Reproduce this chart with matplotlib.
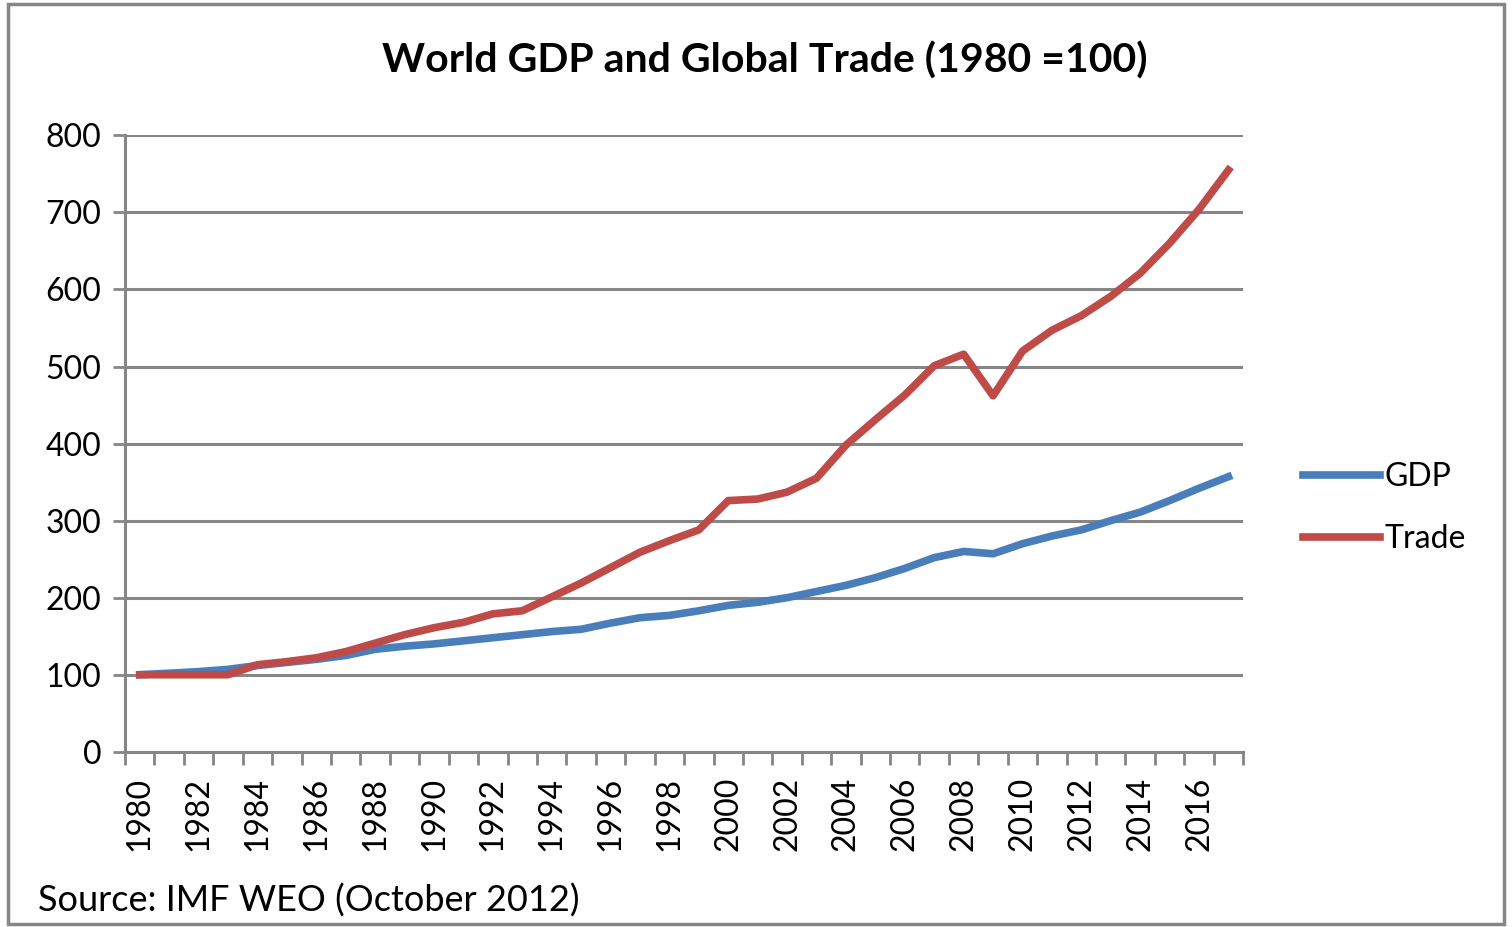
import matplotlib.pyplot as plt
import numpy as np

plt.rcParams['font.family'] = ['Lato', 'DejaVu Sans']

years = list(range(1980, 2018))
gdp = [100, 102, 104, 107, 112, 116, 120, 125, 133, 137,
       140, 144, 148, 152, 156, 159, 167, 174, 177, 183,
       190, 194, 200, 208, 216, 226, 238, 252, 260, 257,
       270, 280, 288, 300, 311, 326, 342, 357]
trade = [100, 100, 100, 100, 113, 117, 122, 130, 141, 152,
         161, 168, 179, 183, 201, 219, 239, 259, 274, 288,
         326, 328, 337, 355, 398, 431, 463, 501, 516, 462,
         520, 547, 566, 591, 621, 660, 704, 755]

grid_col = '#868686'

fig = plt.figure(figsize=(15.12, 9.27), dpi=100)
ax = fig.add_axes([0.0827, 0.189, 0.7395, 0.665])

x = np.arange(len(years))
ax.plot(x, gdp, color='#4A7EBB', lw=5.5, label='GDP')
ax.plot(x, trade, color='#BE4B48', lw=5.5, label='Trade')

ax.set_xlim(-0.5, len(years) - 0.5)
ax.set_ylim(0, 800)
ax.set_yticks(range(0, 801, 100))
ax.yaxis.grid(True, color=grid_col, lw=2.2)
ax.set_axisbelow(True)

# category ticks sit between years, labels every other year
ax.set_xticks(np.arange(-0.5, len(years), 1))
ax.set_xticklabels([])
ax.set_xticks(x[::2], minor=True)
ax.set_xticklabels([str(y) for y in years[::2]], minor=True, rotation=90, fontsize=23)
ax.tick_params(axis='x', which='minor', length=0, pad=18)
ax.tick_params(axis='x', which='major', length=9, width=2, color=grid_col, direction='out')
ax.tick_params(axis='y', length=9, width=2, color=grid_col, labelsize=23, pad=8)

for s in ['top', 'right']:
    ax.spines[s].set_visible(False)
for s in ['left', 'bottom']:
    ax.spines[s].set_color(grid_col)
    ax.spines[s].set_linewidth(2.2)

fig.text(0.5055, 0.935, 'World GDP and Global Trade (1980 =100)', ha='center', va='center',
         fontsize=29.5, fontweight='bold')
fig.text(0.025, 0.01, 'Source: IMF WEO (October 2012)', ha='left', va='bottom', fontsize=26)

leg = ax.legend(loc='center left', bbox_to_anchor=(1.028, 0.395), frameon=False, fontsize=23,
                handlelength=2.4, handletextpad=0.15, labelspacing=1.0)

# outer frame
fig.patches.append(plt.Rectangle((0.005, 0.003), 0.99, 0.993, transform=fig.transFigure,
                                 fill=False, edgecolor=grid_col, lw=2.5))

fig.savefig('out.png', dpi=100)
